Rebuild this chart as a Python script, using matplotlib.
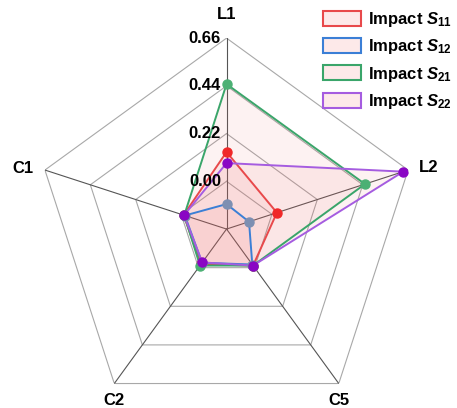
import numpy as np
import matplotlib
matplotlib.use("Agg")
import matplotlib.pyplot as plt
from matplotlib.patches import Patch

plt.rcParams["font.family"] = ["Liberation Sans", "DejaVu Sans"]
plt.rcParams["mathtext.fontset"] = "custom"
plt.rcParams["mathtext.rm"] = "Liberation Sans:bold"
plt.rcParams["mathtext.it"] = "Liberation Sans:bold:italic"
plt.rcParams["mathtext.bf"] = "Liberation Sans:bold"

# axes in clockwise order starting at the top
categories = ["L1", "L2", "C5", "C2", "C1"]
r_ticks = [0.00, 0.22, 0.44, 0.66]
r_min = -0.22

s11 = [0.135, 0.024, -0.012, -0.020, -0.012]
s12 = [-0.105, -0.111, -0.018, -0.028, -0.018]
s21 = [0.448, 0.451, -0.012, -0.012, -0.015]
s22 = [0.084, 0.636, -0.012, -0.030, -0.014]

series = [
    ("Impact $S_{\\mathit{11}}$", s11, "#e8494b", "#f02828"),
    ("Impact $S_{\\mathit{12}}$", s12, "#3b7fd6", "#7d8fb2"),
    ("Impact $S_{\\mathit{21}}$", s21, "#3aa56a", "#4cb074"),
    ("Impact $S_{\\mathit{22}}$", s22, "#a55ce0", "#8a06c4"),
]
fill_color = "#f06464"

n = len(categories)
theta = np.arange(n) * 2 * np.pi / n
theta_closed = np.append(theta, theta[0])

fig = plt.figure(figsize=(4.57, 4.08), dpi=100)
ax = fig.add_axes([0.0777, -0.0294, 0.836, 0.936], projection="polar")
ax.set_theta_offset(np.pi / 2)
ax.set_theta_direction(-1)
ax.set_ylim(r_min, r_ticks[-1])
ax.grid(False)
ax.spines["polar"].set_visible(False)
ax.set_xticks([])
ax.set_yticks([])
ax.patch.set_alpha(0)

# pentagon grid
for r in r_ticks:
    ax.plot(theta_closed, [r] * (n + 1), color="#a8a8a8", lw=0.8, zorder=1)
for t in theta:
    ax.plot([t, t], [r_min, r_ticks[-1]], color="#555555", lw=0.8, zorder=1)

for label, vals, lc, mc in series:
    v = np.append(vals, vals[0])
    ax.fill(theta_closed, v, color=fill_color, alpha=0.08, lw=0, zorder=2)
    ax.plot(theta_closed, v, color=lc, lw=1.4, zorder=3)
    ax.plot(theta, vals, "o", color=mc, ms=6.5, zorder=4)

# radial tick labels along the top axis
for r in r_ticks:
    ax.annotate(f"{r:.2f}", xy=(0, r), xytext=(-4, 0), textcoords="offset points",
                ha="right", va="center", fontsize=12, fontweight="bold", zorder=5)

# axis labels
offsets = [(0, 17), (15, 2), (0, -12), (0, -12), (-16, 1)]
for t, lab, off in zip(theta, categories, offsets):
    ax.annotate(lab, xy=(t, r_ticks[-1]), xytext=off, textcoords="offset points",
                ha="center", va="center", fontsize=12, fontweight="bold",
                annotation_clip=False)

handles = [Patch(facecolor="#fde9e9", edgecolor=lc, lw=1.5, label=label)
           for label, vals, lc, mc in series]
fig.legend(handles=handles, loc="upper right", bbox_to_anchor=(1.01, 1.0),
           frameon=False, handlelength=2.3, handleheight=1.0,
           labelspacing=0.5, handletextpad=0.4, borderaxespad=0.2,
           prop={"weight": "bold", "size": 12})

fig.savefig("out.png", dpi=100)
